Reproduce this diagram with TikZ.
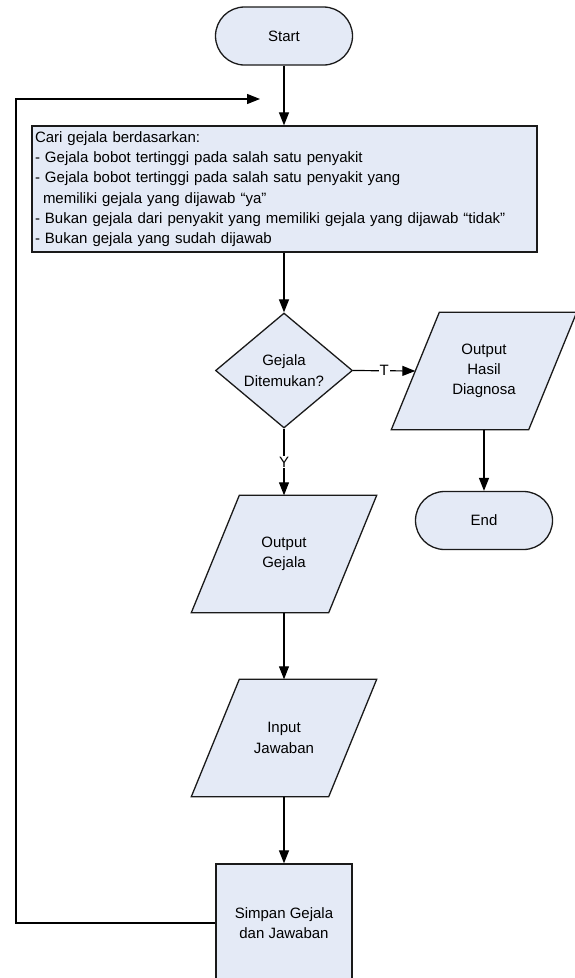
\documentclass[tikz,border=0pt]{standalone}
\usepackage{fontspec}
\setmainfont{Liberation Sans}
\usetikzlibrary{arrows.meta,shapes.geometric,backgrounds}
\definecolor{boxfill}{HTML}{E4EAF6}
\definecolor{boxline}{HTML}{1A1A1A}
\begin{document}
\begin{tikzpicture}[x=1pt,y=-1pt,
  font=\fontsize{15}{20.3}\selectfont,
  shp/.style={draw=boxline,fill=boxfill,line width=1.3pt},
  term/.style={shp,rectangle,rounded corners=29pt,minimum width=137pt,minimum height=58pt,inner sep=0pt,align=center},
  procbox/.style={shp,rectangle,inner sep=0pt,align=center},
  decis/.style={shp,diamond,minimum width=137pt,minimum height=115pt,inner sep=0pt,align=center},
  iobox/.style={rectangle,minimum width=137pt,minimum height=117pt,inner sep=0pt,align=center},
  conn/.style={line width=1.2pt,draw=black,-{Triangle[length=13pt,width=10pt]}},
  lab/.style={fill=white,inner sep=1pt,font=\fontsize{15}{18}\selectfont}]
\useasboundingbox (0,0) rectangle (574,978);
\node[term] (start) at (284,36) {Start};
\node[procbox,minimum width=505pt,minimum height=126pt,text width=499pt,align=left,inner xsep=3pt] (cari) at (284.5,189)
  {Cari gejala berdasarkan:\\
   - Gejala bobot tertinggi pada salah satu penyakit\\
   - Gejala bobot tertinggi pada salah satu penyakit yang\\
   \hspace*{8pt}memiliki gejala yang dijawab “ya”\\
   - Bukan gejala dari penyakit yang memiliki gejala yang dijawab “tidak”\\
   - Bukan gejala yang sudah dijawab};
\node[decis] (dia) at (284,370.5) {Gejala\\Ditemukan?};
\node[iobox] (ohd) at (484,371) {Output\\Hasil\\Diagnosa};
\node[term] (end) at (484,520.5) {End};
\node[iobox] (og) at (284,554) {Output\\Gejala};
\node[iobox] (inp) at (284,738) {Input\\Jawaban};
\node[procbox,minimum width=136pt,minimum height=118pt] (simpan) at (284,923) {Simpan Gejala\\dan Jawaban};
\begin{scope}[on background layer]
  \foreach \n in {ohd,og,inp}{
    \draw[shp] ([xshift=24pt]\n.north west) -- ([xshift=24pt]\n.north east)
      -- ([xshift=-24pt]\n.south east) -- ([xshift=-24pt]\n.south west) -- cycle;
  }
\end{scope}
\coordinate (loopx) at (16,99);
\coordinate (looptip) at (260,99);
\draw[conn] (start.south) -- (start.south |- cari.north);
\draw[conn] (dia.north |- cari.south) -- (dia.north);
\draw[conn] (dia.east) -- node[lab]{T} (ohd.west);
\draw[conn] (dia.south) -- node[lab]{Y} (og.north);
\draw[conn] (ohd.south) -- (end.north);
\draw[conn] (og.south) -- (inp.north);
\draw[conn] (inp.south) -- (simpan.north);
\draw[conn] (simpan.west) -| (loopx) -- (looptip);
\end{tikzpicture}
\end{document}
